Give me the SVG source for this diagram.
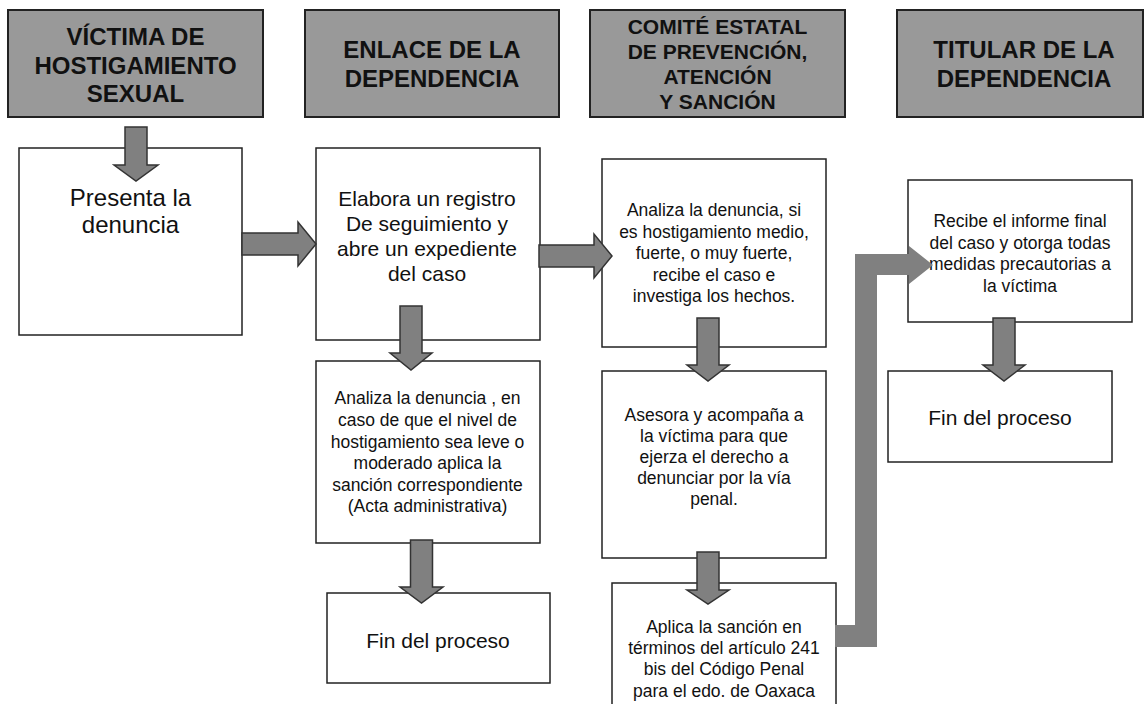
<svg xmlns="http://www.w3.org/2000/svg" width="1144" height="704" viewBox="0 0 1144 704">
<style>
.hdr{fill:#999999;stroke:#222;stroke-width:2}
.box{fill:#fff;stroke:#222;stroke-width:1.5}
.ht{font-family:"Liberation Sans",Arial,sans-serif;font-weight:bold;fill:#111;text-anchor:middle}
.bt{font-family:"Liberation Sans",Arial,sans-serif;fill:#111;text-anchor:middle}
.arr{fill:#808080;stroke:#333;stroke-width:1.5;stroke-linejoin:miter}
.elb{fill:#808080}
</style>
<rect width="1144" height="704" fill="#fff"/>
<g id="h1">
<rect class="hdr" x="8" y="10" width="255" height="107"/>
<text class="ht" font-size="24" x="135.5" y="45">VÍCTIMA DE</text>
<text class="ht" font-size="24" x="135.5" y="74">HOSTIGAMIENTO</text>
<text class="ht" font-size="24" x="135.5" y="102">SEXUAL</text>
</g>
<g id="h2">
<rect class="hdr" x="305" y="10" width="254" height="107"/>
<text class="ht" font-size="24" x="432" y="58">ENLACE DE LA</text>
<text class="ht" font-size="24" x="432" y="87">DEPENDENCIA</text>
</g>
<g id="h3">
<rect class="hdr" x="590" y="10" width="255" height="107"/>
<text class="ht" font-size="21" x="717.5" y="34">COMITÉ ESTATAL</text>
<text class="ht" font-size="21" x="717.5" y="59">DE PREVENCIÓN,</text>
<text class="ht" font-size="21" x="717.5" y="84">ATENCIÓN</text>
<text class="ht" font-size="21" x="717.5" y="109">Y SANCIÓN</text>
</g>
<g id="h4">
<rect class="hdr" x="897" y="10" width="246" height="107"/>
<text class="ht" font-size="24" x="1024" y="58">TITULAR DE LA</text>
<text class="ht" font-size="24" x="1024" y="87">DEPENDENCIA</text>
</g>
<g id="b1">
<rect class="box" x="19" y="148" width="223" height="187"/>
<text class="bt" font-size="24" x="130.5" y="206">Presenta la</text>
<text class="bt" font-size="24" x="130.5" y="233">denuncia</text>
</g>
<g id="b2">
<rect class="box" x="316" y="148" width="224" height="192"/>
<text class="bt" font-size="21" x="427" y="206">Elabora un registro</text>
<text class="bt" font-size="21" x="427" y="231">De seguimiento y</text>
<text class="bt" font-size="21" x="427" y="256">abre un expediente</text>
<text class="bt" font-size="21" x="427" y="281">del caso</text>
</g>
<g id="b3">
<rect class="box" x="602" y="159" width="224" height="188"/>
<text class="bt" font-size="17.5" x="714" y="216">Analiza la denuncia, si</text>
<text class="bt" font-size="17.5" x="714" y="237.5">es hostigamiento medio,</text>
<text class="bt" font-size="17.5" x="714" y="259">fuerte, o muy fuerte,</text>
<text class="bt" font-size="17.5" x="714" y="280.5">recibe el caso e</text>
<text class="bt" font-size="17.5" x="714" y="302">investiga los hechos.</text>
</g>
<g id="b4">
<rect class="box" x="908" y="180" width="224" height="142"/>
<text class="bt" font-size="17.5" x="1020" y="227">Recibe el informe final</text>
<text class="bt" font-size="17.5" x="1020" y="248.5">del caso y otorga todas</text>
<text class="bt" font-size="17.5" x="1020" y="270">medidas precautorias a</text>
<text class="bt" font-size="17.5" x="1020" y="291.5">la víctima</text>
</g>
<g id="b5">
<rect class="box" x="316" y="361" width="224" height="182"/>
<text class="bt" font-size="17.5" x="427.5" y="404">Analiza la denuncia , en</text>
<text class="bt" font-size="17.5" x="427.5" y="426">caso de que el nivel de</text>
<text class="bt" font-size="17.5" x="427.5" y="447.5">hostigamiento sea leve o</text>
<text class="bt" font-size="17.5" x="427.5" y="469">moderado aplica la</text>
<text class="bt" font-size="17.5" x="427.5" y="490.5">sanción correspondiente</text>
<text class="bt" font-size="17.5" x="427.5" y="512">(Acta administrativa)</text>
</g>
<g id="b6">
<rect class="box" x="327" y="593" width="223" height="90"/>
<text class="bt" font-size="21" x="438" y="648">Fin del proceso</text>
</g>
<g id="b7">
<rect class="box" x="602" y="371" width="224" height="187"/>
<text class="bt" font-size="17.5" x="714" y="421">Asesora y acompaña a</text>
<text class="bt" font-size="17.5" x="714" y="442">la víctima para que</text>
<text class="bt" font-size="17.5" x="714" y="463">ejerza el derecho a</text>
<text class="bt" font-size="17.5" x="714" y="484">denunciar por la vía</text>
<text class="bt" font-size="17.5" x="714" y="505">penal.</text>
</g>
<g id="b8">
<rect class="box" x="612" y="583" width="224" height="140"/>
<text class="bt" font-size="17.5" x="724" y="633">Aplica la sanción en</text>
<text class="bt" font-size="17.5" x="724" y="654">términos del artículo 241</text>
<text class="bt" font-size="17.5" x="724" y="675">bis del Código Penal</text>
<text class="bt" font-size="17.5" x="724" y="696.5">para el edo. de Oaxaca</text>
</g>
<g id="b9">
<rect class="box" x="888" y="371" width="224" height="91"/>
<text class="bt" font-size="21" x="1000" y="425">Fin del proceso</text>
</g>
<g id="connectors">
<path class="arr" d="M125,127 H147 V165 H158 L136,181 L114,165 H125 Z"/>
<path class="arr" d="M242,233 H298 V222 L316,244 L298,266 V255 H242 Z"/>
<path class="arr" d="M539,245 H594 V234 L612,256 L594,278 V267 H539 Z"/>
<path class="arr" d="M400,306 H422 V353 H432 L411,370 L390,353 H400 Z"/>
<path class="arr" d="M410.5,540 H432.5 V587 H443 L421.5,603 L400,587 H410.5 Z"/>
<path class="arr" d="M697,318 H719 V365 H729 L708,381 L687,365 H697 Z"/>
<path class="arr" d="M697,552 H719 V590 H729 L708,604 L687,590 H697 Z"/>
<path class="arr" d="M993,318 H1015 V365 H1025 L1004,381 L983,365 H993 Z"/>
<path class="elb" d="M835,625 H855 V254 H909 V246 L933,265 L909,284 V275 H877 V647 H835 Z"/>
</g>
</svg>
